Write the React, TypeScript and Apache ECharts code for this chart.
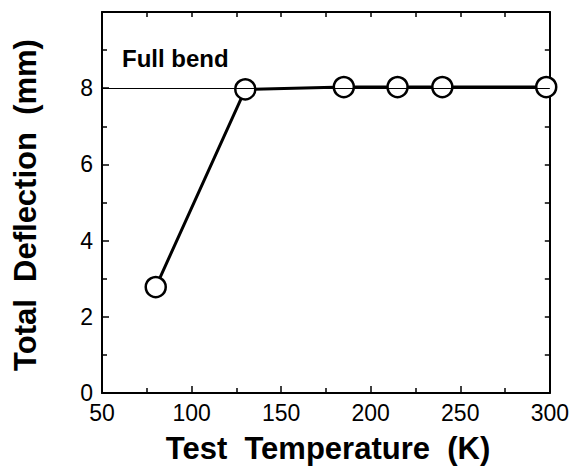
import React, { useEffect, useRef } from "react";
import * as echarts from "echarts";

const temperatures = [80, 130, 185, 215, 240, 298];
const deflections = [2.78, 7.97, 8.03, 8.03, 8.03, 8.03];
const xTicks = { min: 50, max: 300, interval: 50 };
const yTicks = { min: 0, max: 10, interval: 2 };
const fullBendValue = 8;
const xTitle = "Test  Temperature  (K)";
const yTitle = "Total  Deflection  (mm)";
const annotation = "Full bend";

const FONT = "'Liberation Sans', Arial, Helvetica, sans-serif";

export default function App() {
  const ref = useRef<HTMLDivElement>(null);
  useEffect(() => {
    if (!ref.current) return;
    const chart = echarts.init(ref.current, undefined, { renderer: "svg" });
    const gridLeft = 102, gridRight = 20, gridTop = 12, gridBottom = 75;
    const axisCommon = {
      axisLine: { show: true, onZero: false, lineStyle: { color: "#000", width: 2 } },
      axisTick: { show: true, inside: true, length: 7, lineStyle: { color: "#000", width: 1.5 } },
      minorTick: { show: true, splitNumber: 2, length: 5, lineStyle: { color: "#000", width: 1.5 } },
      splitLine: { show: false },
    };
    chart.setOption({
      animation: false,
      backgroundColor: "#fff",
      grid: { left: gridLeft, right: gridRight, top: gridTop, bottom: gridBottom },
      xAxis: [
        {
          type: "value",
          position: "bottom",
          ...xTicks,
          ...axisCommon,
          axisLabel: { color: "#000", fontSize: 23, fontFamily: FONT, margin: 8 },
        },
        {
          type: "value",
          position: "top",
          ...xTicks,
          ...axisCommon,
          axisTick: { ...axisCommon.axisTick, length: 5 },
          axisLabel: { show: false },
        },
      ],
      yAxis: [
        {
          type: "value",
          position: "left",
          ...yTicks,
          ...axisCommon,
          axisLabel: {
            color: "#000",
            fontSize: 23,
            fontFamily: FONT,
            margin: 9,
            formatter: (v: number) => (v === yTicks.max ? "" : String(v)),
          },
        },
        {
          type: "value",
          position: "right",
          ...yTicks,
          ...axisCommon,
          axisTick: { ...axisCommon.axisTick, length: 5 },
          axisLabel: { show: false },
        },
      ],
      graphic: [
        {
          type: "text",
          x: 328,
          y: 448,
          style: {
            text: xTitle,
            font: `bold 31px ${FONT}`,
            fill: "#000",
            textAlign: "center",
            textVerticalAlign: "middle",
          },
        },
        {
          type: "text",
          x: 25,
          y: 205,
          rotation: Math.PI / 2,
          style: {
            text: yTitle,
            font: `bold 31px ${FONT}`,
            fill: "#000",
            textAlign: "center",
            textVerticalAlign: "middle",
          },
        },
        {
          type: "text",
          x: 122,
          y: 58,
          style: {
            text: annotation,
            font: `bold 24px ${FONT}`,
            fill: "#000",
            textAlign: "left",
            textVerticalAlign: "middle",
          },
        },
      ],
      series: [
        {
          type: "line",
          data: temperatures.map((t, i) => [t, deflections[i]]),
          clip: false,
          symbol: "circle",
          symbolSize: 20,
          lineStyle: { color: "#000", width: 3 },
          itemStyle: { color: "#fff", borderColor: "#000", borderWidth: 2.5 },
          markLine: {
            silent: true,
            symbol: "none",
            label: { show: false },
            lineStyle: { color: "#000", width: 1.2, type: "solid" },
            data: [{ yAxis: fullBendValue }],
          },
          z: 3,
        },
      ],
    });
    return () => chart.dispose();
  }, []);
  return (
    <div
      ref={ref}
      style={{ position: "fixed", left: 0, top: 0, width: 572, height: 468 }}
    />
  );
}
